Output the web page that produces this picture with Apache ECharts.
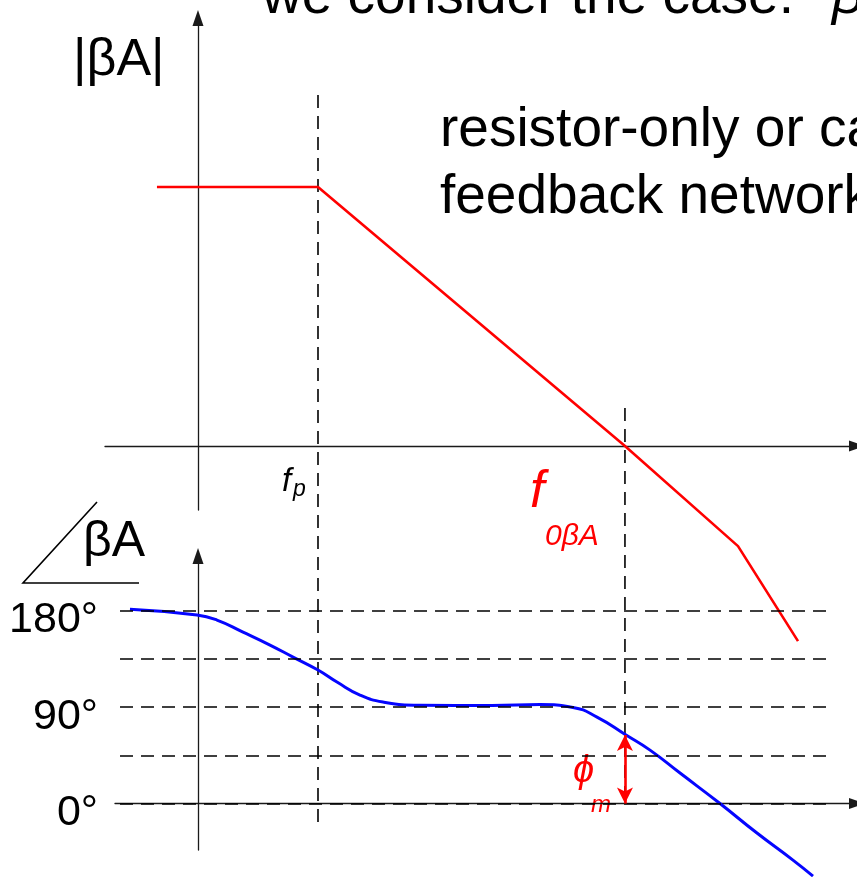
<!DOCTYPE html>
<html>
<head>
<meta charset="utf-8">
<style>
  html, body { margin: 0; padding: 0; background: #fff; }
  #chart { width: 857px; height: 877px; }
</style>
<script src="https://cdn.jsdelivr.net/npm/echarts@6/dist/echarts.min.js"></script>
</head>
<body>
<div id="chart"></div>
<script>
// frequency axis in decade-like units, 0 at the y axes
const fP = 1.0;          // pole frequency
const f0 = 3.558;        // |βA| = 1 crossover

// |βA| asymptotes (dB)
const magFreq = [-0.342, 1.0, 3.558, 4.5, 5.0];
const magDb = [60, 60, 0, -23.2, -45.2];

// phase of βA (degrees)
const phaseFreq = [-0.567, -0.008, 0.158, 0.375, 0.6, 0.792, 1.0, 1.158, 1.35, 1.542, 1.85,
  2.45, 2.85, 3.125, 3.325, 3.567, 3.767, 4.017, 4.35, 4.658, 4.958, 5.125];
const phaseDeg = [181, 175.7, 171.0, 159.8, 147.7, 136.5, 124.4, 113.2, 101.1, 94.6, 91.5,
  91.3, 92.2, 89.6, 80.6, 63.9, 49.8, 28.4, 0, -27.5, -52.7, -67.6];

// dashed guide levels and tick labels
const phaseGuides = [0, 45, 90, 135, 180];
const phaseTicks = [0, 90, 180];
const guideFreqs = [fP, f0];
const guideTopDb = [81.3, 8.8];
const guideBottomDb = [-87.8, -82.9];
const phaseMargin = 63.9;

const FONT = '"Liberation Sans", Arial, sans-serif';
const AXIS_COLOR = '#1a1a1a';
const dash = { color: '#000', width: 1.6, type: [13, 8] };

const chart = echarts.init(document.getElementById('chart'));

const zip = (xs, ys) => xs.map((x, i) => [x, ys[i]]);

// text helper, y is the centre of the em box
const txt = (text, x, y, size, opts = {}) => ({
  type: 'text',
  x, y,
  silent: true,
  style: {
    text,
    font: `${opts.italic ? 'italic ' : ''}${size}px ${FONT}`,
    fill: opts.color || '#000',
    align: 'left',
    verticalAlign: 'middle'
  }
});

const hiddenAxis = {
  type: 'value',
  axisTick: { show: false },
  axisLabel: { show: false },
  splitLine: { show: false }
};

const axisLine = {
  onZero: true,
  symbol: ['none', 'triangle'],
  symbolSize: [11, 16],
  lineStyle: { color: AXIS_COLOR, width: 1.3 }
};

const option = {
  animation: false,
  backgroundColor: '#fff',
  grid: [
    { left: 105, right: 0, top: 18, bottom: 367, outerBoundsMode: 'none', containLabel: false },
    { left: 115, right: 0, top: 556, bottom: 27, outerBoundsMode: 'none', containLabel: false }
  ],
  xAxis: [
    { ...hiddenAxis, gridIndex: 0, min: -0.775, max: 5.4917, axisLine },
    { ...hiddenAxis, gridIndex: 1, min: -0.6917, max: 5.4917, axisLine }
  ],
  yAxis: [
    { ...hiddenAxis, gridIndex: 0, min: -14.83, max: 99.15, axisLine },
    {
      ...hiddenAxis,
      gridIndex: 1,
      min: -43.3,
      max: 230.7,
      axisLine,
      axisLabel: {
        show: true,
        customValues: phaseTicks,
        formatter: v => v + '°',
        margin: 17,
        verticalAlign: 'top',
        lineHeight: 20,
        color: '#000',
        fontSize: 43,
        fontFamily: FONT
      }
    }
  ],
  series: [
    // vertical dashed guides at fp and f0
    ...guideFreqs.map((f, i) => ({
      type: 'line',
      xAxisIndex: 0,
      yAxisIndex: 0,
      clip: false,
      silent: true,
      symbol: 'none',
      z: 1,
      lineStyle: dash,
      data: [[f, guideTopDb[i]], [f, guideBottomDb[i]]]
    })),
    // horizontal dashed phase levels
    {
      type: 'line',
      xAxisIndex: 1,
      yAxisIndex: 1,
      data: [],
      z: 1,
      markLine: {
        silent: true,
        symbol: 'none',
        label: { show: false },
        lineStyle: dash,
        data: phaseGuides.map(v => [{ coord: [-0.65, v] }, { coord: [5.267, v] }])
      }
    },
    {
      name: '|βA|',
      type: 'line',
      xAxisIndex: 0,
      yAxisIndex: 0,
      clip: false,
      symbol: 'none',
      z: 3,
      lineStyle: { color: '#ff0000', width: 2.6 },
      data: zip(magFreq, magDb)
    },
    {
      name: '∠βA',
      type: 'line',
      xAxisIndex: 1,
      yAxisIndex: 1,
      clip: false,
      smooth: true,
      symbol: 'none',
      z: 3,
      lineStyle: { color: '#0505ff', width: 3 },
      data: zip(phaseFreq, phaseDeg)
    },
    // phase margin arrow
    {
      type: 'line',
      xAxisIndex: 1,
      yAxisIndex: 1,
      data: [],
      z: 4,
      markLine: {
        silent: true,
        symbol: ['arrow', 'arrow'],
        symbolSize: [12, 16],
        label: { show: false },
        lineStyle: { color: '#ff0000', width: 2.6, type: 'solid' },
        data: [[{ coord: [f0, phaseMargin] }, { coord: [f0, 0] }]]
      }
    }
  ],
  graphic: [
    txt('we consider the case:', 262, -2, 55),
    txt('β', 832, -2, 55, { italic: true }),
    txt('|βA|', 73, 61, 52),
    txt('resistor-only or capacitive', 440, 131, 55),
    txt('feedback network', 440, 198, 55),
    txt('f', 282, 482, 33, { italic: true }),
    txt('p', 293, 490, 23, { italic: true }),
    txt('f', 530, 493, 52, { italic: true, color: '#ff0000' }),
    txt('0βA', 545, 537, 30, { italic: true, color: '#ff0000' }),
    txt('βA', 83, 542, 50),
    {
      type: 'polyline',
      silent: true,
      shape: { points: [[97, 502], [23, 583], [139, 583]] },
      style: { stroke: '#000', lineWidth: 1.6, fill: null }
    },
    txt('ϕ', 573, 771, 38, { italic: true, color: '#ff0000' }),
    txt('m', 591, 805, 24, { italic: true, color: '#ff0000' })
  ]
};

chart.setOption(option);
window.addEventListener('resize', () => chart.resize());
</script>
</body>
</html>
